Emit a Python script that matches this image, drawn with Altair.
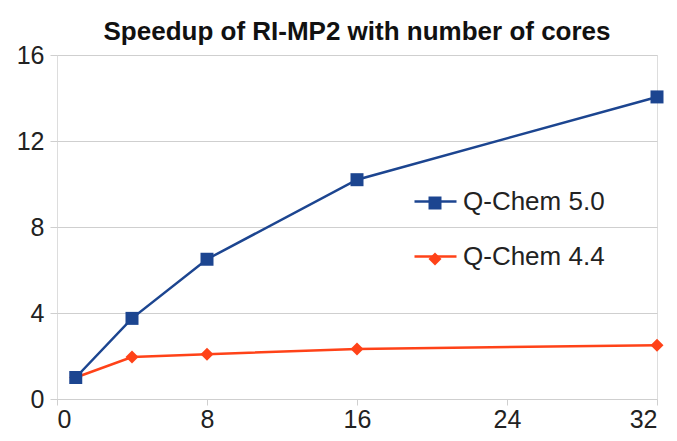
import altair as alt
import pandas as pd

cores = [1, 4, 8, 16, 32]
qchem50 = [1.0, 3.75, 6.5, 10.2, 14.05]
qchem44 = [1.0, 1.95, 2.08, 2.33, 2.5]
series_names = ["Q-Chem 5.0", "Q-Chem 4.4"]
marker_keys = ["m50", "m44"]
series_colors = ["#1c4590", "#ff4218"]
series_shapes = ["square", "diamond"]
x_ticks = [0, 8, 16, 24, 32]
y_ticks = [0, 4, 8, 12, 16]
title_text = "Speedup of RI-MP2 with number of cores"

rows = []
for c, v in zip(cores, qchem44):
    rows.append({"cores": c, "speedup": v, "series": series_names[1], "marker": marker_keys[1], "k": 0})
for c, v in zip(cores, qchem50):
    rows.append({"cores": c, "speedup": v, "series": series_names[0], "marker": marker_keys[0], "k": 1})
df = pd.DataFrame(rows)

FONT = "Liberation Sans"
GRID = "#cfcfcf"
LBL = 25

x_enc = alt.X("cores:Q", scale=alt.Scale(domain=[0, 32], nice=False),
              axis=alt.Axis(values=x_ticks, grid=False, domain=False, title=None,
                            tickColor=GRID, tickSize=6, labelFontSize=LBL, labelFont=FONT,
                            labelColor="#222222", labelPadding=2))
y_enc = alt.Y("speedup:Q", scale=alt.Scale(domain=[0, 16], nice=False),
              axis=alt.Axis(values=y_ticks, grid=True, gridColor=GRID, domain=False, title=None,
                            tickColor=GRID, tickSize=7, labelFontSize=LBL, labelFont=FONT,
                            labelColor="#222222", labelPadding=6))

lines = alt.Chart(df).mark_line(strokeWidth=2.5).encode(
    x=x_enc, y=y_enc,
    color=alt.Color("series:N", scale=alt.Scale(domain=series_names, range=series_colors),
                    legend=alt.Legend(orient="none", legendX=356, legendY=124, title=None,
                                      symbolType="stroke", symbolSize=1764, symbolStrokeWidth=2.5,
                                      labelFontSize=26, labelFont=FONT, labelColor="#222222",
                                      labelOffset=5, rowPadding=19)),
)

marker_leg = alt.Legend(orient="none", legendX=365, legendY=135, title=None,
                        symbolSize=169, symbolOpacity=1, symbolStrokeWidth=0,
                        labelFontSize=26, labelFont=FONT, labelExpr="''",
                        labelOffset=0, rowPadding=30)

points = alt.Chart(df).mark_point(filled=True, opacity=1, size=169, strokeWidth=0).encode(
    x=x_enc, y=y_enc,
    fill=alt.Fill("marker:N", scale=alt.Scale(domain=marker_keys, range=series_colors),
                  legend=marker_leg),
    shape=alt.Shape("marker:N", scale=alt.Scale(domain=marker_keys, range=series_shapes),
                    legend=marker_leg),
    order="k:Q",
)

chart = alt.layer(lines, points).properties(
    width=600, height=344,
    title=alt.TitleParams(title_text, fontSize=26, fontWeight="bold", font=FONT,
                          anchor="middle", frame="group", offset=-2, color="#111111"),
    autosize=alt.AutoSizeParams(type="none"),
    padding={"left": 49, "top": 47, "right": 12, "bottom": 34},
).configure_view(stroke=GRID, strokeWidth=1).configure(background="white")

chart.save("out.html", embed_options={"renderer": "svg", "actions": False})
